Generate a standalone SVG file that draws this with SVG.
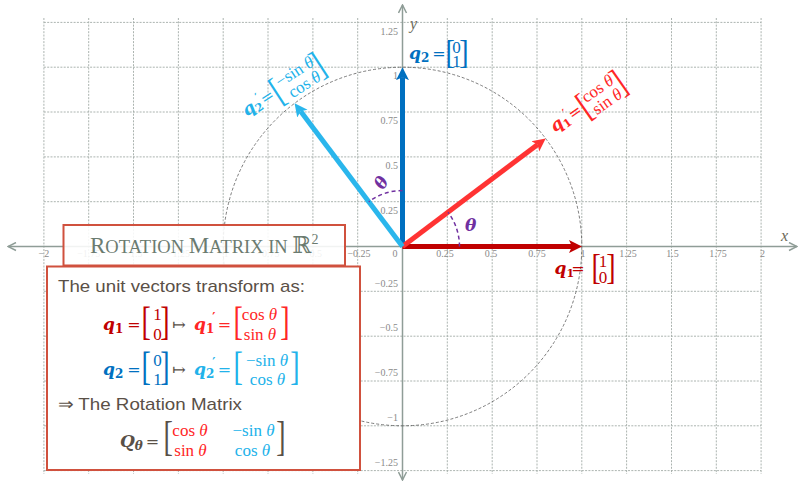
<svg xmlns="http://www.w3.org/2000/svg" width="800" height="483" viewBox="0 0 800 483">
<style>
.grid line{stroke:#a3aca7;stroke-width:0.9;stroke-dasharray:2 1.3}
.axis{stroke:#8f9d97;stroke-width:1.5;fill:none}
.tick{font-family:"Liberation Serif",serif;font-size:10px;fill:#8a8a8a}
.tx{text-anchor:middle}
.ty{text-anchor:end}
.m{font-family:"Liberation Serif","DejaVu Serif",serif;font-size:17px}
.q{font-family:"DejaVu Serif",serif;font-size:17px;font-weight:bold;font-style:italic}
.s{font-style:normal}
.eq{font-family:"DejaVu Serif",serif;font-size:16px;text-anchor:middle}
.it{font-style:italic}
.mid{text-anchor:middle}
.br{font-family:"Liberation Serif",serif;font-size:28px}
.dr{fill:#c00000}.rd{fill:#ff2626}.db{fill:#0070c0}.lb{fill:#22b2ea}.gy{fill:#595047}.pu{fill:#7030a0}
.sans{font-family:"Liberation Sans",sans-serif;font-size:17px;fill:#5a5047}
.box{fill:#fff;stroke:#d0513e;stroke-width:2}
.arc{fill:none;stroke:#7030a0;stroke-width:1.5;stroke-dasharray:4 3}
.vec{stroke-width:5;fill:none}
</style>
<defs>
<marker id="ax" viewBox="0 0 10 10" refX="9" refY="5" markerWidth="10" markerHeight="10" markerUnits="userSpaceOnUse" orient="auto-start-reverse"><path d="M1,1 L9,5 L1,9" fill="none" stroke="#8f9d97" stroke-width="1.5"/></marker>
<marker id="h1" viewBox="0 -8 14 16" refX="3" refY="0" markerWidth="14" markerHeight="16" markerUnits="userSpaceOnUse" orient="auto"><path d="M0,-6.5 L13,0 L0,6.5 L3,0 Z" fill="#c00000"/></marker>
<marker id="h2" viewBox="0 -8 14 16" refX="3" refY="0" markerWidth="14" markerHeight="16" markerUnits="userSpaceOnUse" orient="auto"><path d="M0,-6.5 L13,0 L0,6.5 L3,0 Z" fill="#0070c0"/></marker>
<marker id="h3" viewBox="0 -8 14 16" refX="3" refY="0" markerWidth="14" markerHeight="16" markerUnits="userSpaceOnUse" orient="auto"><path d="M0,-6.5 L13,0 L0,6.5 L3,0 Z" fill="#ff3333"/></marker>
<marker id="h4" viewBox="0 -8 14 16" refX="3" refY="0" markerWidth="14" markerHeight="16" markerUnits="userSpaceOnUse" orient="auto"><path d="M0,-6.5 L13,0 L0,6.5 L3,0 Z" fill="#2ab6ec"/></marker>
</defs>
<rect width="800" height="483" fill="#fff"/>
<g class="grid">
<line x1="43.9" y1="18" x2="43.9" y2="474"/><line x1="88.7" y1="18" x2="88.7" y2="474"/><line x1="133.5" y1="18" x2="133.5" y2="474"/><line x1="178.4" y1="18" x2="178.4" y2="474"/><line x1="223.2" y1="18" x2="223.2" y2="474"/><line x1="268" y1="18" x2="268" y2="474"/><line x1="312.9" y1="18" x2="312.9" y2="474"/><line x1="357.7" y1="18" x2="357.7" y2="474"/><line x1="447.3" y1="18" x2="447.3" y2="474"/><line x1="492.2" y1="18" x2="492.2" y2="474"/><line x1="537" y1="18" x2="537" y2="474"/><line x1="581.8" y1="18" x2="581.8" y2="474"/><line x1="626.6" y1="18" x2="626.6" y2="474"/><line x1="671.5" y1="18" x2="671.5" y2="474"/><line x1="716.3" y1="18" x2="716.3" y2="474"/><line x1="761.1" y1="18" x2="761.1" y2="474"/>
<line x1="43.9" y1="22.4" x2="761.1" y2="22.4"/><line x1="43.9" y1="67.2" x2="761.1" y2="67.2"/><line x1="43.9" y1="112" x2="761.1" y2="112"/><line x1="43.9" y1="156.9" x2="761.1" y2="156.9"/><line x1="43.9" y1="201.7" x2="761.1" y2="201.7"/><line x1="43.9" y1="291.3" x2="761.1" y2="291.3"/><line x1="43.9" y1="336.2" x2="761.1" y2="336.2"/><line x1="43.9" y1="381" x2="761.1" y2="381"/><line x1="43.9" y1="425.8" x2="761.1" y2="425.8"/><line x1="43.9" y1="470.6" x2="761.1" y2="470.6"/>
</g>
<g id="axes">
<line class="axis" x1="8" y1="246.5" x2="797" y2="246.5" marker-start="url(#ax)" marker-end="url(#ax)"/>
<line class="axis" x1="402.5" y1="480" x2="402.5" y2="5" marker-start="url(#ax)" marker-end="url(#ax)"/>
<text x="781" y="241" font-family="Liberation Serif,serif" font-style="italic" font-size="16" fill="#6b6858">x</text>
<text x="410" y="29" font-family="Liberation Serif,serif" font-style="italic" font-size="16" fill="#6b6858">y</text>
</g>
<g id="ticks" class="tick">
<text class="tx" x="43.9" y="257">−2</text><text class="tx" x="88.7" y="257">−1.75</text><text class="tx" x="133.5" y="257">−1.5</text><text class="tx" x="178.4" y="257">−1.25</text><text class="tx" x="223.2" y="257">−1</text><text class="tx" x="268" y="257">−0.75</text><text class="tx" x="312.9" y="257">−0.5</text><text class="tx" x="359" y="257">−0.25</text><text class="tx" x="395" y="257">0</text><text class="tx" x="445" y="257">0.25</text><text class="tx" x="491" y="257">0.5</text><text class="tx" x="537" y="257">0.75</text><text class="tx" x="583" y="257">1</text><text class="tx" x="628" y="257">1.25</text><text class="tx" x="672.5" y="257">1.5</text><text class="tx" x="718" y="257">1.75</text><text class="tx" x="762.5" y="257">2</text>
<text class="ty" x="398" y="34.5">1.25</text><text class="ty" x="398" y="78.5">1</text><text class="ty" x="398" y="124">0.75</text><text class="ty" x="398" y="168.5">0.5</text><text class="ty" x="398" y="213.5">0.25</text><text class="ty" x="398" y="286.5">−0.25</text><text class="ty" x="398" y="331">−0.5</text><text class="ty" x="398" y="376">−0.75</text><text class="ty" x="398" y="421">−1</text><text class="ty" x="398" y="465.5">−1.25</text>
</g>
<circle id="unit-circle" cx="402.5" cy="246.5" r="179.3" fill="none" stroke="#5c5c5c" stroke-width="0.8" stroke-dasharray="3 2"/>
<g id="connectors">
<line id="v-q1" class="vec" x1="402.5" y1="246.5" x2="572" y2="246.5" stroke="#c00000" marker-end="url(#h1)"/>
<line id="v-q2" class="vec" x1="402.5" y1="246.5" x2="402.5" y2="77.2" stroke="#0070c0" marker-end="url(#h2)"/>
<line id="v-q1p" class="vec" x1="402.5" y1="246.5" x2="537.7" y2="144.6" stroke="#ff3333" marker-end="url(#h3)"/>
<line id="v-q2p" class="vec" x1="402.5" y1="246.5" x2="300.6" y2="111.3" stroke="#2ab6ec" marker-end="url(#h4)"/>
<path class="arc" d="M459.5,246.5 A57,57 0 0 0 448,212.2"/>
<path class="arc" d="M402.5,190.5 A56,56 0 0 0 368.8,201.8"/>
</g>
<g id="theta-labels">
<text class="q pu" font-size="15" x="465" y="231">θ</text>
<text class="q pu" font-size="15" text-anchor="middle" transform="translate(382,183) rotate(-60)" y="5">θ</text>
</g>
<g id="label-q2">
<text class="q db" x="409" y="59">q<tspan class="s" font-size="12" dy="3">2</tspan></text>
<text class="eq db" x="439" y="59">=</text>
<text class="br db" transform="translate(445.5,62.8) scale(1,1.2)">[</text>
<text class="m db mid" font-size="14" x="456.5" y="53">0</text>
<text class="m db mid" font-size="14" x="456.5" y="66.5">1</text>
<text class="br db" transform="translate(459.2,62.8) scale(1,1.2)">]</text>
</g>
<g id="label-q1">
<text class="q dr" font-size="15" x="554.5" y="274">q<tspan class="s" font-size="11" dy="3">1</tspan></text>
<text class="eq dr" font-size="15" x="578" y="274">=</text>
<text class="br dr" transform="translate(591.5,279.2) scale(1,1.28)">[</text>
<text class="m dr mid" font-size="15" x="603" y="266.5">1</text>
<text class="m dr mid" font-size="15" x="603" y="283">0</text>
<text class="br dr" transform="translate(606.2,279.2) scale(1,1.28)">]</text>
</g>
<g id="label-q1p" transform="translate(555,132.5) rotate(-35)">
<text class="q rd" x="0" y="0">q<tspan class="s" font-size="11" dy="3">1</tspan><tspan class="s" font-size="11" dx="-1.5" dy="-10">′</tspan></text>
<text class="eq rd" x="28" y="0">=</text>
<text class="br rd" transform="translate(34.5,7) scale(1,1.325)">[</text>
<text class="m rd mid" font-size="16" x="60" y="-6">cos <tspan class="it">θ</tspan></text>
<text class="m rd mid" font-size="16" x="60.5" y="10">sin <tspan class="it">θ</tspan></text>
<text class="br rd" transform="translate(76.2,7) scale(1,1.325)">]</text>
</g>
<g id="label-q2p" transform="translate(246.7,116.5) rotate(-33)">
<text class="q lb" x="0" y="0">q<tspan class="s" font-size="11" dy="3">2</tspan><tspan class="s" font-size="11" dx="-1.5" dy="-10">′</tspan></text>
<text class="eq lb" x="28" y="0">=</text>
<text class="br lb" transform="translate(34.5,7) scale(1,1.325)">[</text>
<text class="m lb mid" font-size="16" x="64.5" y="-6">−sin <tspan class="it">θ</tspan></text>
<text class="m lb mid" font-size="16" x="66" y="10">cos <tspan class="it">θ</tspan></text>
<text class="br lb" transform="translate(83.2,7) scale(1,1.325)">]</text>
</g>
<g id="content-box">
<rect class="box" x="47" y="266.5" width="313" height="203.5"/>
<text class="sans" x="58" y="292" textLength="247" lengthAdjust="spacingAndGlyphs">The unit vectors transform as:</text>
<text class="q dr" x="103" y="330">q<tspan class="s" font-size="12" dy="3">1</tspan></text>
<text class="eq dr" x="134" y="330">=</text>
<text class="br dr" transform="translate(141.5,334.5) scale(1,1.45)">[</text>
<text class="m dr mid" x="157.5" y="319.5">1</text>
<text class="m dr mid" x="157.5" y="339.5">0</text>
<text class="br dr" transform="translate(160.2,334.5) scale(1,1.45)">]</text>
<text class="eq gy" x="179" y="330">↦</text>
<text class="q rd" x="194" y="330">q<tspan class="s" font-size="12" dy="3">1</tspan><tspan class="s" font-size="12" dx="-2" dy="-11">′</tspan></text>
<text class="eq rd" x="224.5" y="330">=</text>
<text class="br rd" transform="translate(233.5,334.5) scale(1,1.45)">[</text>
<text class="m rd mid" x="259.5" y="319.5">cos <tspan class="it">θ</tspan></text>
<text class="m rd mid" x="260" y="339.5">sin <tspan class="it">θ</tspan></text>
<text class="br rd" transform="translate(280.2,334.5) scale(1,1.45)">]</text>
<text class="q db" x="103" y="375">q<tspan class="s" font-size="12" dy="3">2</tspan></text>
<text class="eq db" x="134" y="375">=</text>
<text class="br db" transform="translate(141.5,379.5) scale(1,1.45)">[</text>
<text class="m db mid" x="157.5" y="365.5">0</text>
<text class="m db mid" x="157.5" y="385">1</text>
<text class="br db" transform="translate(160.2,379.5) scale(1,1.45)">]</text>
<text class="eq gy" x="179" y="375">↦</text>
<text class="q lb" x="194" y="375">q<tspan class="s" font-size="12" dy="3">2</tspan><tspan class="s" font-size="12" dx="-2" dy="-11">′</tspan></text>
<text class="eq lb" x="224.5" y="375">=</text>
<text class="br lb" transform="translate(233.5,379.5) scale(1,1.45)">[</text>
<text class="m lb mid" x="267" y="365.5">−sin <tspan class="it">θ</tspan></text>
<text class="m lb mid" x="267.5" y="385">cos <tspan class="it">θ</tspan></text>
<text class="br lb" transform="translate(290.2,379.5) scale(1,1.45)">]</text>
<text class="sans" x="58" y="410" textLength="184" lengthAdjust="spacingAndGlyphs">⇒ The Rotation Matrix</text>
<text class="q gy" x="120" y="447">Q<tspan font-size="12" dy="3">θ</tspan></text>
<text class="eq gy" x="152.5" y="447">=</text>
<text class="br gy" transform="translate(163.5,450.3) scale(1,1.5)">[</text>
<text class="m rd mid" x="190" y="435.5">cos <tspan class="it">θ</tspan></text>
<text class="m rd mid" x="190.5" y="455.5">sin <tspan class="it">θ</tspan></text>
<text class="m lb mid" x="253.5" y="435.5">−sin <tspan class="it">θ</tspan></text>
<text class="m lb mid" x="252.5" y="455.5">cos <tspan class="it">θ</tspan></text>
<text class="br gy" transform="translate(276.2,450.3) scale(1,1.5)">]</text>
</g>
<g id="title-box">
<rect class="box" x="63.5" y="225" width="281.5" height="40.5" fill-opacity="0.88"/>
<text x="90" y="253" font-family="Liberation Serif,DejaVu Serif,serif" fill="#6b7b70"><tspan font-size="23">R</tspan><tspan font-size="18.5">OTATION </tspan><tspan font-size="23">M</tspan><tspan font-size="18.5">ATRIX IN </tspan><tspan font-size="23">ℝ</tspan><tspan font-size="14" dy="-9">2</tspan></text>
</g>
</svg>
